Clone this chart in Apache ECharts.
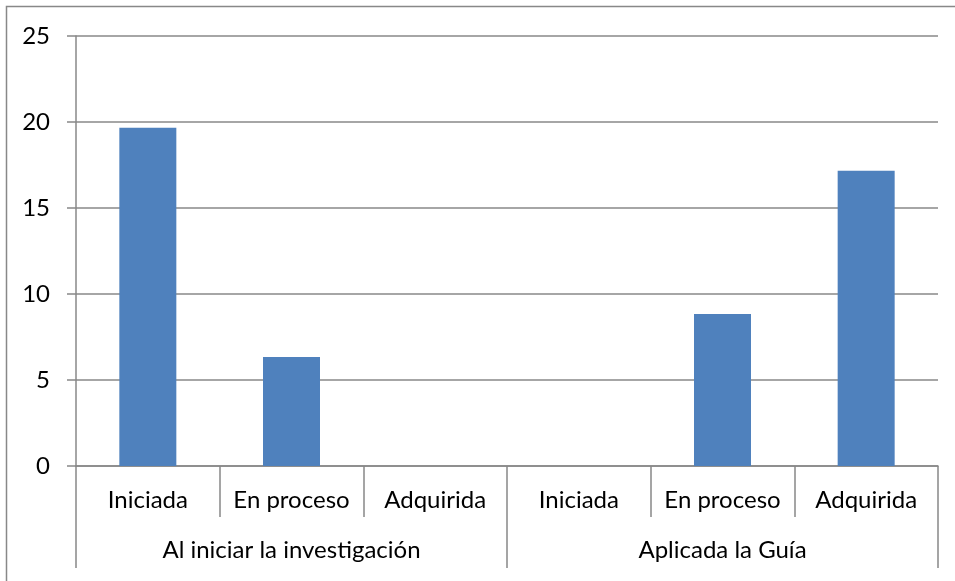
<!DOCTYPE html>
<html>
<head>
<meta charset="utf-8">
<script src="https://cdn.jsdelivr.net/npm/echarts@6/dist/echarts.min.js"></script>
<style>
  html, body { margin: 0; padding: 0; background: #fff; }
  #main { width: 955px; height: 581px; }
</style>
</head>
<body>
<div id="main"></div>
<script>
// niveles del eje x
const categories = ['Iniciada', 'En proceso', 'Adquirida', 'Iniciada', 'En proceso', 'Adquirida']
const groups = ['Al iniciar la investigación', 'Aplicada la Guía']
const values = [19.67, 6.33, 0, 0, 8.83, 17.17]
const yTicks = [0, 5, 10, 15, 20, 25]

const gray = '#888888'
const font = 'Lato, "Open Sans", sans-serif'

var myChart = echarts.init(document.getElementById('main'))

myChart.setOption({
  animation: false,
  textStyle: { fontFamily: font },
  grid: { left: 76, right: 17, top: 36, bottom: 115 },
  graphic: [
    {
      type: 'rect',
      shape: { x: 6.5, y: 6.5, width: 960, height: 590 },
      style: { fill: 'none', stroke: gray, lineWidth: 1.5 },
      silent: true
    }
  ],
  xAxis: [
    {
      type: 'category',
      data: categories,
      position: 'bottom',
      axisLine: { show: true, lineStyle: { color: gray, width: 1.5 } },
      axisTick: { show: true, interval: 0, length: 51, lineStyle: { color: gray, width: 1.5 } },
      axisLabel: { interval: 0, color: '#000', fontSize: 24, margin: 22, fontFamily: font },
      splitLine: { show: false }
    },
    {
      type: 'category',
      data: groups,
      position: 'bottom',
      axisLine: { show: false },
      axisTick: { show: true, interval: 0, length: 102, lineStyle: { color: gray, width: 1.5 } },
      axisLabel: { interval: 0, color: '#000', fontSize: 24, margin: 72, fontFamily: font },
      splitLine: { show: false }
    }
  ],
  yAxis: {
    type: 'value',
    min: yTicks[0],
    max: yTicks[yTicks.length - 1],
    interval: 5,
    axisLine: { show: true, lineStyle: { color: gray, width: 1.5 } },
    axisTick: { show: true, length: 9, lineStyle: { color: gray, width: 1.5 } },
    axisLabel: { color: '#000', fontSize: 24, margin: 26, fontFamily: font },
    splitLine: { show: true, lineStyle: { color: gray, width: 1.5 } }
  },
  series: [
    {
      type: 'bar',
      xAxisIndex: 0,
      data: values,
      barWidth: 57,
      itemStyle: { color: '#4F81BD' }
    }
  ]
})
</script>
</body>
</html>
